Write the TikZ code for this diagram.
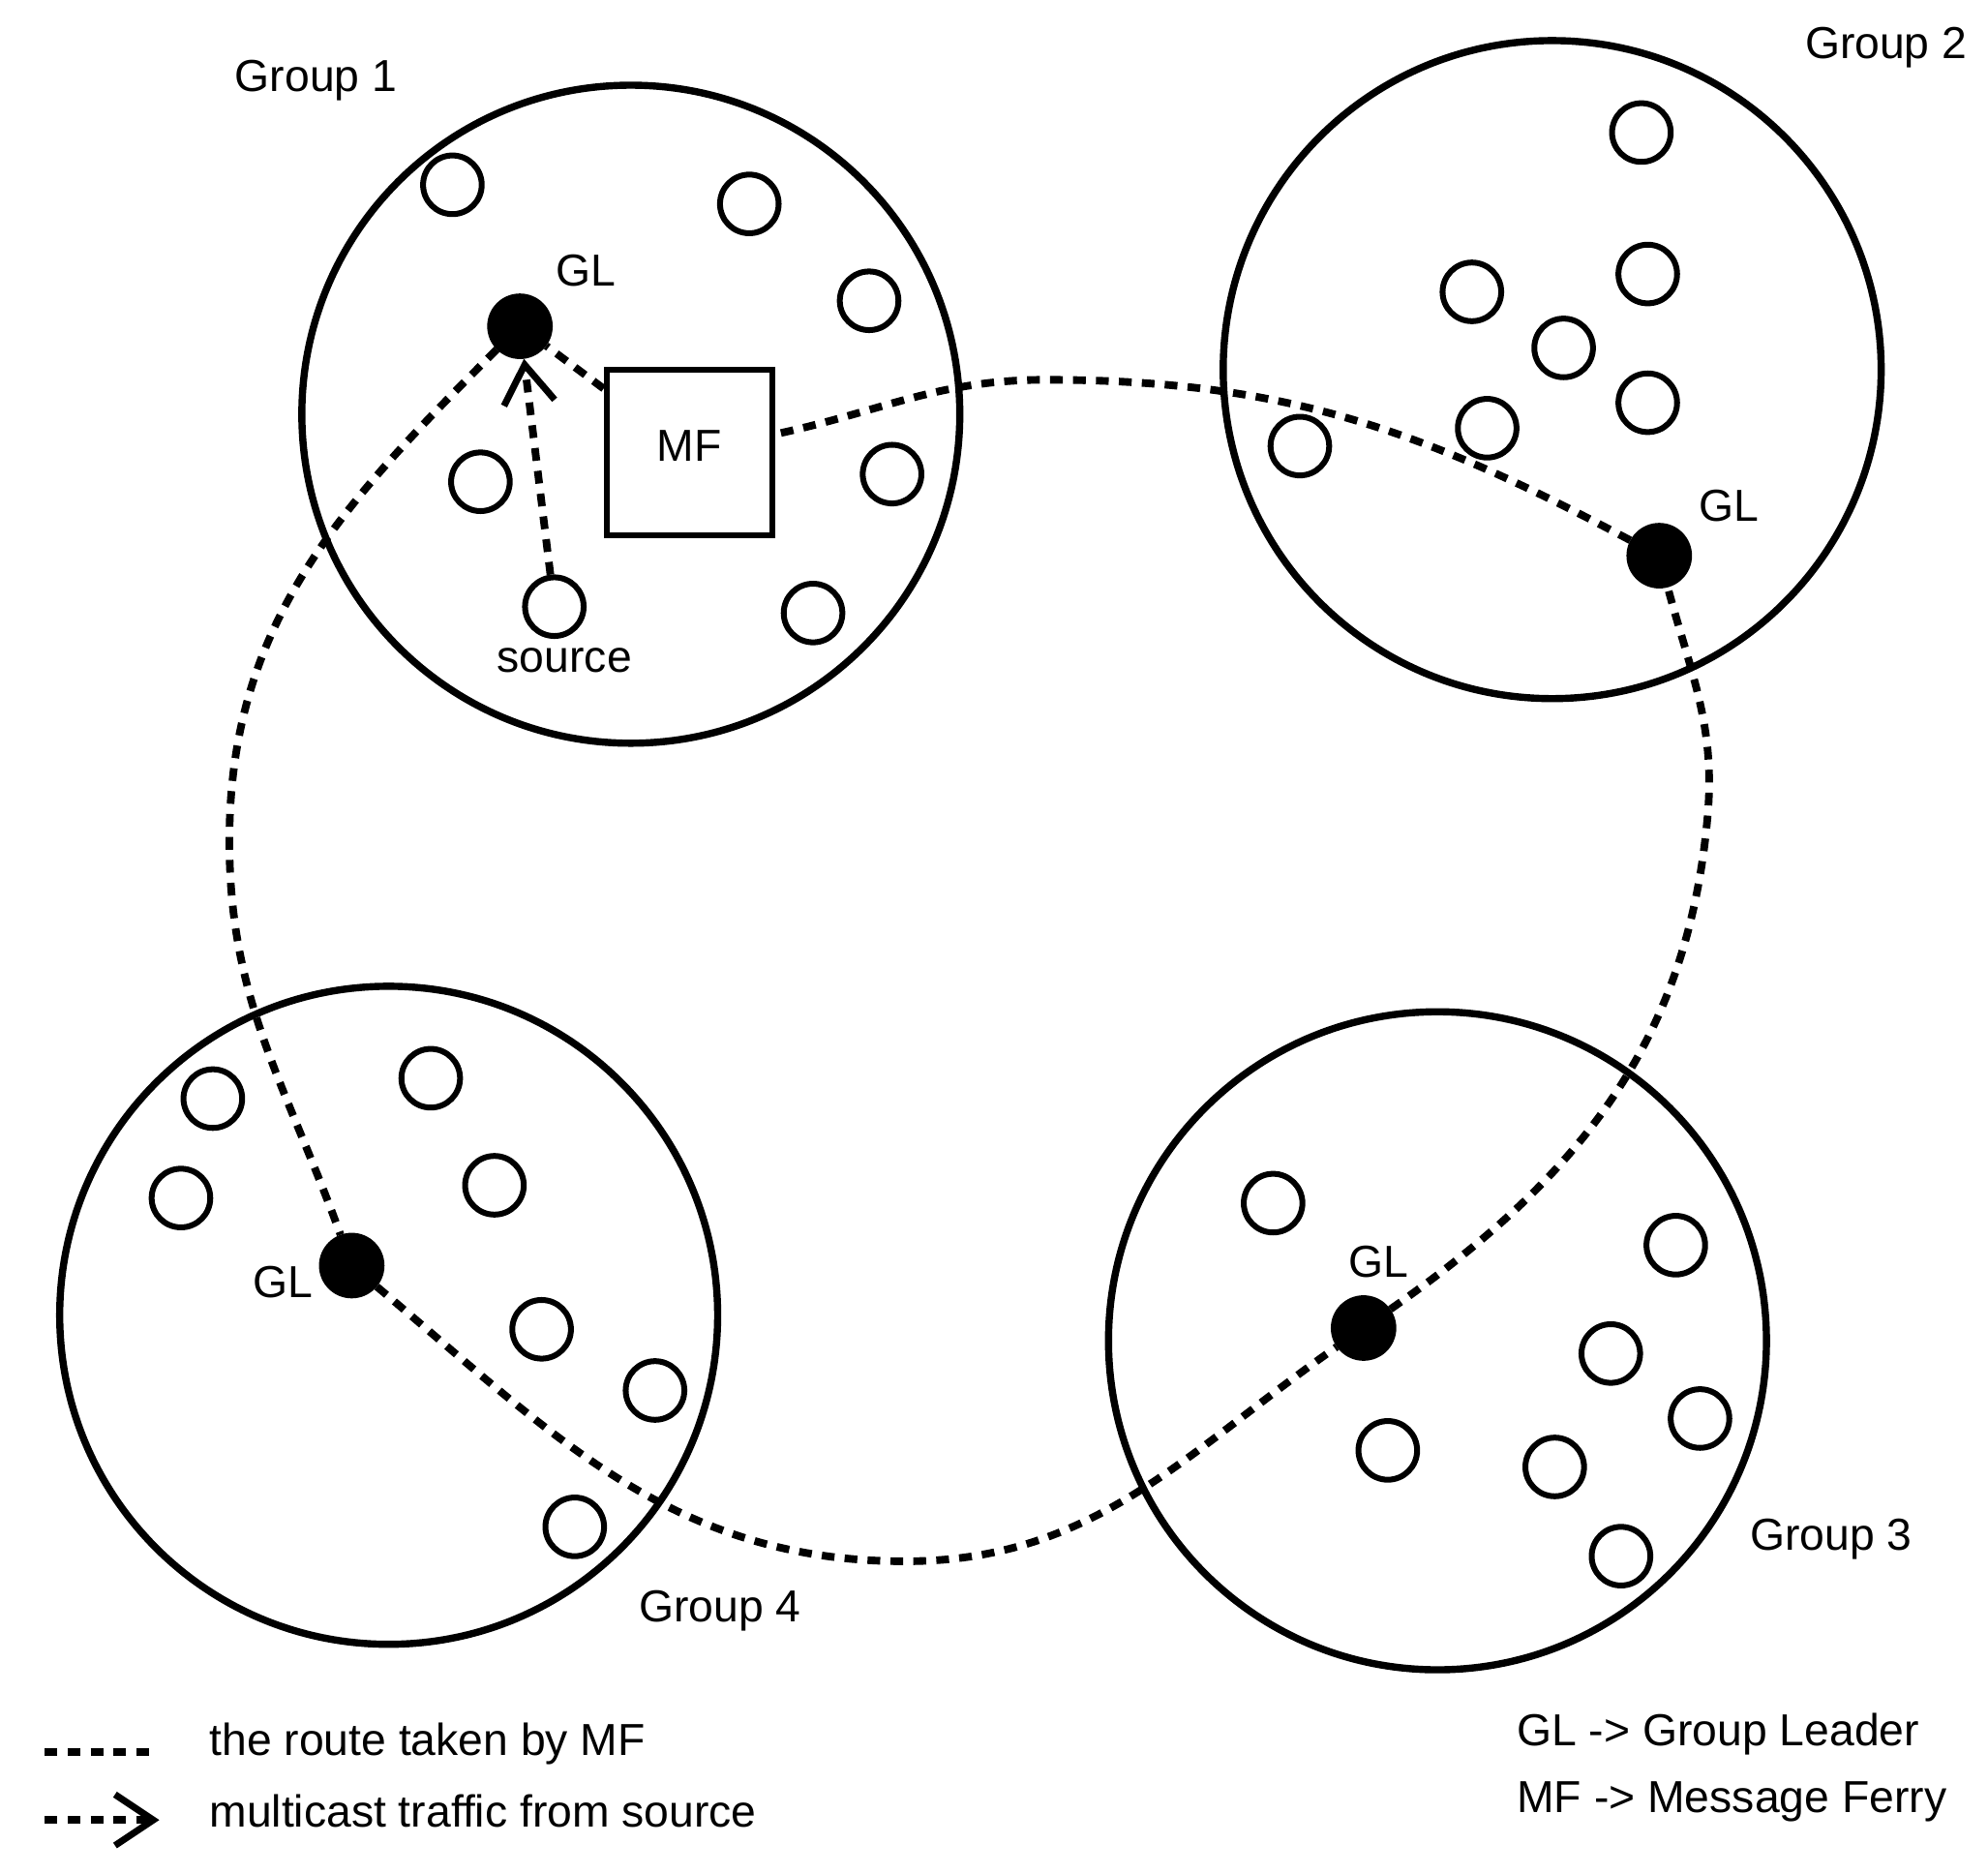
\documentclass[tikz,border=0pt]{standalone}
\usepackage{fontspec}
\setmainfont{Liberation Sans}
\usetikzlibrary{arrows.meta,positioning}
\tikzset{
    group/.style = {draw, circle, line width=1.6pt, minimum size=5.16cm, inner sep=0pt},
    member/.style = {draw, circle, line width=1.3pt, minimum size=0.46cm, inner sep=0pt},
    leader/.style = {draw, circle, fill=black, minimum size=0.5cm, inner sep=0pt},
    ferry/.style = {draw, rectangle, line width=1.3pt, minimum size=1.3cm},
    route/.style = {line width=1.7pt, dash pattern=on 0.1cm off 0.08cm},
    traffic/.style = {route, -{Straight Barb[length=0.3cm,width=0.4cm,line width=1.5pt]}},
    label/.style = {font=\fontsize{10}{12}\selectfont},
}
\begin{document}
\begin{tikzpicture}[x=0.01cm, y=-0.01cm]
	\useasboundingbox (0,0) rectangle (1560,1470);
	
	% groups
	\node (grpA) [group] at (495,325) {};
	\node (grpB) [group] at (1218,290) {};
	\node (grpC) [group] at (1128,1052) {};
	\node (grpD) [group] at (305,1032) {};
	\node [label] at (248,63) {Group 1};
	\node [label] at (1480,37) {Group 2};
	\node [label] at (1437,1208) {Group 3};
	\node [label] at (565,1264) {Group 4};
	
	% members
	\foreach \x/\y in {355/145, 588/160, 682/236, 377/378, 700/372, 638/481,
		1288/104, 1155/229, 1293/215, 1227/273, 1167/336, 1293/316, 1020/350,
		999/944, 1315/977, 1264/1062, 1334/1113, 1089/1138, 1220/1151, 1272/1221,
		167/862, 338/846, 142/940, 388/930, 425/1043, 514/1091, 451/1198}
		\node [member] at (\x,\y) {};
	\node (src) [member] at (435,476) {};
	\node [label] at (443,518) {source};
	
	% leaders and ferry
	\node (glA) [leader] at (408,256) {};
	\node (glB) [leader] at (1302,436) {};
	\node (glC) [leader] at (1070,1042) {};
	\node (glD) [leader] at (276,993) {};
	\node [label] at (460,212) {GL};
	\node [label] at (1357,397) {GL};
	\node [label] at (1082,990) {GL};
	\node [label] at (222,1006) {GL};
	\node (mf) [ferry] at (541,355) {};
	\node [label] at (541,350) {MF};
	
	% route of the ferry
	\draw [route] (glA) to[out=225,in=90] (180,660) to[out=270,in=110] (glD);
	\draw [route] (glD) to[out=-40,in=180] (710,1225) to[out=0,in=215] (glC);
	\draw [route] (glC) to[out=35,in=-95] (1340,640) to[out=85,in=-75] (glB);
	\draw [route] (glB) to[out=152,in=0] (820,298) to[out=180,in=12] (mf);
	\draw [route] (mf) -- (glA);
	
	% traffic
	\draw [traffic] (src) -- (glA);
	
	% legend
	\coordinate (keyA) at (35,1375);
	\coordinate (keyB) at (125,1375);
	\coordinate (keyC) at (35,1428);
	\coordinate (keyD) at (125,1428);
	\draw [route] (keyA) -- (keyB);
	\draw [traffic] (keyC) -- (keyD);
	\node [label, anchor=west] at (152,1368) {the route taken by MF};
	\node [label, anchor=west] at (152,1421) {multicast traffic from source};
	\node [label, anchor=west] at (1178,1361) {GL -> Group Leader};
	\node [label, anchor=west] at (1178,1414) {MF -> Message Ferry};
	
\end{tikzpicture}
\end{document}
